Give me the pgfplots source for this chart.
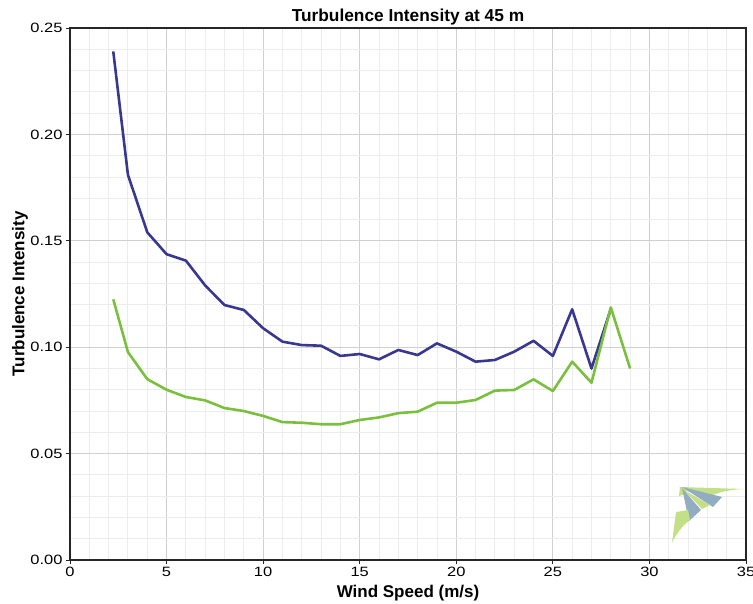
\documentclass[border=0pt]{standalone}
\usepackage{fontspec}
\setmainfont{Liberation Sans}[FakeStretch=1.22]
\newfontfamily\labelfont{Liberation Sans}
\usepackage{pgfplots}
\pgfplotsset{compat=1.18}
\definecolor{tiblue}{RGB}{56,56,145}
\definecolor{tigreen}{RGB}{122,192,62}
\definecolor{majgrid}{RGB}{208,208,208}
\definecolor{mingrid}{RGB}{236,236,236}
\definecolor{logogreen}{RGB}{196,224,134}
\definecolor{logoblue}{RGB}{146,172,194}
\begin{document}
\begin{tikzpicture}[x=1pt,y=1pt]
\useasboundingbox (-70,-43) rectangle (683,560);
\begin{axis}[
  at={(0,0)}, anchor=south west,
  scale only axis, width=676pt, height=532pt,
  xmin=0, xmax=35, ymin=0, ymax=0.25,
  xtick={0,5,10,15,20,25,30,35},
  ytick={0,0.05,0.1,0.15,0.2,0.25},
  minor x tick num=4, minor y tick num=4,
  grid=both,
  major grid style={majgrid, line width=0.9pt},
  minor grid style={mingrid, line width=0.9pt},
  axis line style={black!85, line width=1.1pt},
  tick align=outside, tick pos=left,
  major tick length=4pt, minor tick length=0pt,
  major tick style={black!85, line width=0.9pt},
  /pgf/number format/assume math mode=true,
  yticklabel style={/pgf/number format/.cd, fixed, fixed zerofill, precision=2},
  tick label style={font=\fontsize{13.5}{16}\selectfont},
  xlabel={Wind Speed (m/s)}, ylabel={Turbulence Intensity},
  xlabel style={font=\labelfont\bfseries\fontsize{17}{20}\selectfont, at={(axis description cs:0.5,0)}, anchor=base, yshift=-37pt},
  ylabel style={font=\labelfont\bfseries\fontsize{17}{20}\selectfont, at={([xshift=-50pt]axis description cs:0,0.5)}, anchor=center, rotate=0},
  title={Turbulence Intensity at 45 m},
  title style={font=\labelfont\bfseries\fontsize{17.3}{20}\selectfont, at={(axis description cs:0.5,1)}, anchor=base},
]
\addplot[tiblue, line width=2.6pt, line join=round] coordinates {
(2.24,0.239) (3,0.181) (4,0.154) (5,0.1437) (6,0.1407) (7,0.129) (8,0.1198)
(9,0.1175) (10,0.1089) (11,0.1026) (12,0.101) (13,0.1007) (14,0.0959)
(15,0.0968) (16,0.0943) (17,0.0987) (18,0.0963) (19,0.1018) (20,0.0979)
(21,0.0932) (22,0.094) (23,0.0979) (24,0.103) (25,0.0959) (26,0.1178)
(27,0.090) (28,0.118)
};
\addplot[tigreen, line width=2.6pt, line join=round] coordinates {
(2.24,0.1225) (3,0.0977) (4,0.085) (5,0.080) (6,0.0766) (7,0.075) (8,0.0714)
(9,0.070) (10,0.0677) (11,0.0648) (12,0.0645) (13,0.0638) (14,0.0638)
(15,0.0658) (16,0.067) (17,0.069) (18,0.0697) (19,0.0739) (20,0.0739)
(21,0.0752) (22,0.0796) (23,0.0799) (24,0.0849) (25,0.0794) (26,0.0932)
(27,0.0833) (28,0.1187) (29,0.090)
};
\end{axis}
% decorative logo (pixel coords relative to axis origin)
\begin{scope}[shift={(-70,560)}, yscale=-1]
\fill[logogreen] (679,487) -- (744,489) .. controls (726,490) and (714,493) .. (706,499) -- (690,492) -- cycle;
\fill[logogreen] (680,487) -- (688,487) -- (686,494) -- (679,496) -- cycle;
\fill[logoblue] (682,487) -- (722,497) -- (713,507) -- cycle;
\fill[logogreen] (684,490) -- (710,505) -- (702,509) -- cycle;
\fill[logoblue] (682,488) -- (701,510) -- (689,521) -- cycle;
\fill[logogreen] (676,512) -- (688,510) -- (690,520) .. controls (682,526) and (676,534) .. (672,543) -- cycle;
\end{scope}
\end{tikzpicture}
\end{document}
